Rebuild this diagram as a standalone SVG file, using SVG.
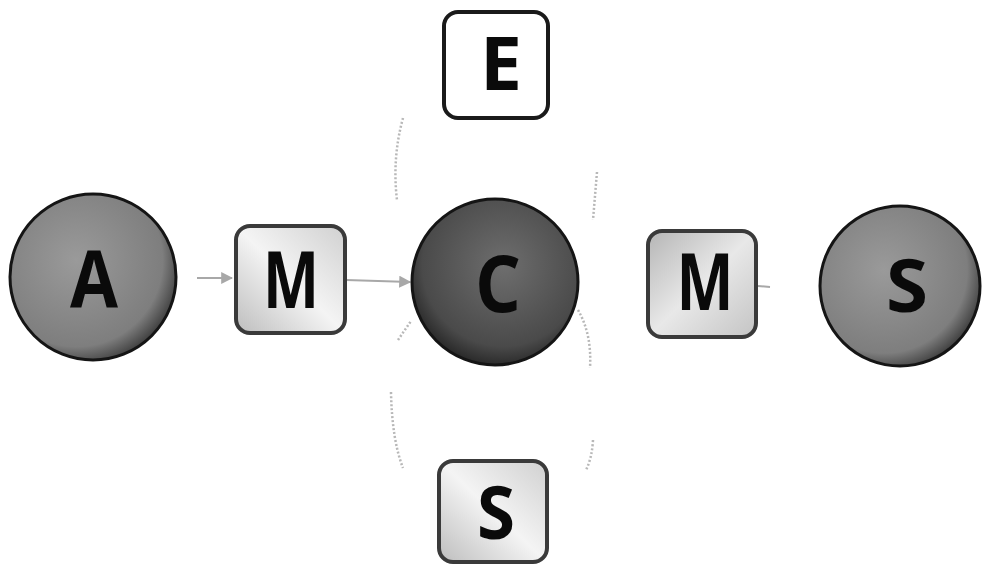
<svg xmlns="http://www.w3.org/2000/svg" width="982" height="566" viewBox="0 0 982 566">
<defs>
<style>
.lbl{font-family:"Open Sans","Liberation Sans",sans-serif;font-weight:700;font-size:78px;fill:#0a0a0a;text-anchor:middle}
.circ{stroke:#151515;stroke-width:3}
.box{stroke:#1a1a1a;stroke-width:4}
.gbox{stroke:#3a3a3a;stroke-width:4}
.conn{fill:none;stroke:#a8a8a8;stroke-width:2}
.faint{fill:none;stroke:#b8b8b8;stroke-width:2.5;stroke-dasharray:2 2}
</style>
<radialGradient id="gA" cx="0.4" cy="0.4" r="0.65">
<stop offset="0" stop-color="#9a9a9a"/><stop offset="0.8" stop-color="#7e7e7e"/><stop offset="1" stop-color="#3a3a3a"/>
</radialGradient>
<radialGradient id="gC" cx="0.55" cy="0.4" r="0.65">
<stop offset="0" stop-color="#6e6e6e"/><stop offset="0.75" stop-color="#4a4a4a"/><stop offset="1" stop-color="#1e1e1e"/>
</radialGradient>
<linearGradient id="gBox" x1="0" y1="1" x2="1" y2="0">
<stop offset="0" stop-color="#bdbdbd"/><stop offset="0.5" stop-color="#f4f4f4"/><stop offset="1" stop-color="#d0d0d0"/>
</linearGradient>
<linearGradient id="gBox2" x1="0" y1="0" x2="1" y2="1">
<stop offset="0" stop-color="#b5b5b5"/><stop offset="0.5" stop-color="#e8e8e8"/><stop offset="1" stop-color="#c4c4c4"/>
</linearGradient>
<marker id="ah" viewBox="0 0 10 10" refX="9" refY="5" markerWidth="6" markerHeight="6" orient="auto-start-reverse">
<path d="M0,0 L10,5 L0,10 z" fill="#a8a8a8"/>
</marker>
</defs>
<g id="connectors">
<path class="conn" d="M197,278 L232,278" marker-end="url(#ah)"/>
<path class="conn" d="M346,280 L410,282" marker-end="url(#ah)"/>
<path class="conn" d="M758,286 L770,287"/>
<path class="faint" d="M403,118 Q392,158 397,200"/>
<path class="faint" d="M597,172 Q595,196 593,220"/>
<path class="faint" d="M578,310 Q592,334 590,368"/>
<path class="faint" d="M391,392 Q392,440 403,468"/>
<path class="faint" d="M593,440 Q592,458 586,470"/>
<path class="faint" d="M398,340 L411,321"/>
</g>
<g id="node-A">
<circle class="circ" cx="93" cy="277" r="83" fill="url(#gA)"/>
<text class="lbl" x="94" y="307" textLength="48" lengthAdjust="spacingAndGlyphs">A</text>
</g>
<g id="node-M1">
<rect class="gbox" x="236" y="226" width="109" height="107" rx="14" fill="url(#gBox)"/>
<text class="lbl" x="291" y="308" textLength="56" lengthAdjust="spacingAndGlyphs">M</text>
</g>
<g id="node-E">
<rect class="box" x="444" y="12" width="104" height="106" rx="14" fill="#ffffff"/>
<text class="lbl" x="501" y="90" textLength="42" lengthAdjust="spacingAndGlyphs" style="font-size:74px">E</text>
</g>
<g id="node-C">
<circle class="circ" cx="495" cy="282" r="83" fill="url(#gC)"/>
<text class="lbl" x="498" y="312" textLength="46" lengthAdjust="spacingAndGlyphs">C</text>
</g>
<g id="node-M2">
<rect class="gbox" x="648" y="231" width="108" height="106" rx="14" fill="url(#gBox2)"/>
<text class="lbl" x="705" y="310" textLength="57" lengthAdjust="spacingAndGlyphs">M</text>
</g>
<g id="node-S1">
<circle class="circ" cx="900" cy="286" r="80" fill="url(#gA)"/>
<text class="lbl" x="907" y="312" textLength="42" lengthAdjust="spacingAndGlyphs" style="font-size:74px">S</text>
</g>
<g id="node-S2">
<rect class="gbox" x="439" y="461" width="108" height="101" rx="14" fill="url(#gBox)"/>
<text class="lbl" x="496" y="539" textLength="38" lengthAdjust="spacingAndGlyphs" style="font-size:74px">S</text>
</g>
</svg>
